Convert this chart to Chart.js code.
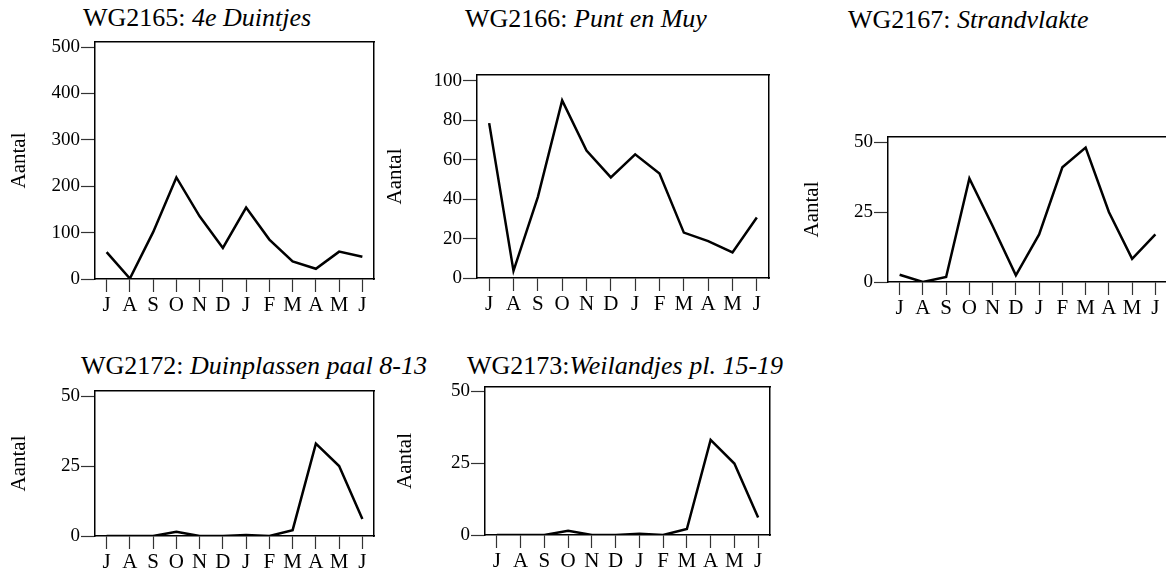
<!DOCTYPE html>
<html>
<head>
<meta charset="utf-8">
<script src="https://cdn.jsdelivr.net/npm/chart.js@4"></script>
<style>
  html, body { margin: 0; padding: 0; background: #fff; }
  body { position: relative; width: 1166px; height: 574px; overflow: hidden; }
  canvas { position: absolute; }
  .titel {
    position: absolute;
    font-family: 'Liberation Serif', 'Times New Roman', serif;
    font-size: 26px;
    line-height: 26px;
    white-space: nowrap;
    color: #000;
  }
</style>
</head>
<body>
<div class="titel" style="left:83px;top:5px">WG2165: <i>4e Duintjes</i></div>
<div class="titel" style="left:465px;top:6px">WG2166: <i>Punt en Muy</i></div>
<div class="titel" style="left:848px;top:7px">WG2167: <i>Strandvlakte</i></div>
<div class="titel" style="left:81px;top:353px">WG2172: <i>Duinplassen paal 8-13</i></div>
<div class="titel" style="left:467px;top:353px">WG2173:<i>Weilandjes pl. 15-19</i></div>

<canvas id="wg2165"></canvas>
<canvas id="wg2166"></canvas>
<canvas id="wg2167"></canvas>
<canvas id="wg2172"></canvas>
<canvas id="wg2173"></canvas>

<script>
// maanden juli t/m juni
const maanden = ['J', 'A', 'S', 'O', 'N', 'D', 'J', 'F', 'M', 'A', 'M', 'J'];

const aantal2165 = [58, 1, 101, 219, 135, 67, 154, 85, 38, 22, 59, 48];
const aantal2166 = [78.5, 3.6, 41, 90, 64.6, 51, 62.7, 53, 23, 18.7, 13, 30.7];
const aantal2167 = [2.6, 0, 1.8, 37, 20, 2.4, 17, 41, 48, 25, 8.3, 17];
const aantal2172 = [0, 0, 0, 1.5, 0, 0, 0.4, 0, 2.1, 33, 25, 6.1];
const aantal2173 = [0, 0, 0, 1.5, 0, 0, 0.4, 0, 2.1, 33, 24.8, 6.1];

// y-as tick labels
const ticks2165 = [0, 100, 200, 300, 400, 500];
const ticks2166 = [0, 20, 40, 60, 80, 100];
const ticks50 = [0, 25, 50];

const FONT = "'Liberation Serif', 'Times New Roman', serif";
const XH = 45;    // hoogte x-as
const BOVEN = 16; // ruimte boven plot
const RECHTS = 10; // ruimte rechts van plot

// plot = positie van het kader op de pagina, labelX = midden van "Aantal"
const panelen = [
  { id: 'wg2165', data: aantal2165, ticks: ticks2165, yMax: 510.8, plot: { l: 95, t: 42, r: 374, b: 279 }, labelX: 20 },
  { id: 'wg2166', data: aantal2166, ticks: ticks2166, yMax: 102.9, plot: { l: 477, t: 75, r: 769, b: 278 }, labelX: 395.5 },
  { id: 'wg2167', data: aantal2167, ticks: ticks50, yMax: 51.8, plot: { l: 888, t: 137, r: 1167, b: 282 }, labelX: 812.5 },
  { id: 'wg2172', data: aantal2172, ticks: ticks50, yMax: 51.8, plot: { l: 95, t: 391, r: 374, b: 536 }, labelX: 20 },
  { id: 'wg2173', data: aantal2173, ticks: ticks50, yMax: 51.4, plot: { l: 485, t: 387, r: 770, b: 535 }, labelX: 405.5 },
];

const rand = { display: true, color: '#000', width: 1.5 };

function maakGrafiek(p) {
  const canvas = document.getElementById(p.id);
  const left = Math.round(p.labelX - 12.6);
  const top = p.plot.t - BOVEN;
  const yw = p.plot.l - left;
  canvas.width = p.plot.r + RECHTS - left;
  canvas.height = p.plot.b + XH - top;
  canvas.style.left = left + 'px';
  canvas.style.top = top + 'px';

  new Chart(canvas.getContext('2d'), {
    type: 'line',
    data: {
      labels: maanden,
      datasets: [{
        data: p.data,
        borderColor: '#000',
        borderWidth: 2.5,
        pointRadius: 0,
        tension: 0,
        fill: false,
      }],
    },
    options: {
      responsive: false,
      animation: false,
      devicePixelRatio: 1,
      layout: { padding: 0 },
      plugins: {
        legend: { display: false },
        tooltip: { enabled: false },
      },
      scales: {
        x: {
          type: 'category',
          position: 'bottom',
          offset: true,
          grid: { drawOnChartArea: false, drawTicks: true, tickLength: 13, tickColor: '#333', tickWidth: 1.2 },
          border: rand,
          ticks: { color: '#000', font: { family: FONT, size: 21 }, padding: 1, maxRotation: 0, autoSkip: false },
          afterFit(s) { s.height = XH; },
        },
        x2: {
          type: 'linear',
          position: 'top',
          min: 0,
          max: 1,
          grid: { drawOnChartArea: false, drawTicks: false },
          border: rand,
          ticks: { display: false },
          afterFit(s) { s.height = BOVEN; },
        },
        y: {
          type: 'linear',
          position: 'left',
          min: 0,
          max: p.yMax,
          afterBuildTicks(s) { s.ticks = p.ticks.map((v) => ({ value: v })); },
          grid: { drawOnChartArea: false, drawTicks: true, tickLength: 14, tickColor: '#333', tickWidth: 1.2 },
          border: rand,
          ticks: { color: '#000', font: { family: FONT, size: 19 }, padding: 1 },
          title: { display: true, text: 'Aantal', color: '#000', font: { family: FONT, size: 21 }, padding: 0 },
          afterFit(s) { s.width = yw; },
        },
        y2: {
          type: 'linear',
          position: 'right',
          min: 0,
          max: 1,
          grid: { drawOnChartArea: false, drawTicks: false },
          border: rand,
          ticks: { display: false },
          afterFit(s) { s.width = RECHTS; },
        },
      },
    },
  });
}

panelen.forEach(maakGrafiek);
</script>
</body>
</html>
